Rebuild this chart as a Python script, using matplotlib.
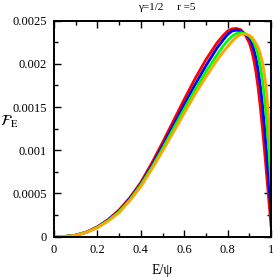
import matplotlib
matplotlib.use('Agg')
import matplotlib.pyplot as plt
from matplotlib.ticker import MultipleLocator, FormatStrFormatter

plt.rcParams['font.family'] = ['Liberation Serif', 'DejaVu Serif']
plt.rcParams['mathtext.fontset'] = 'stix'

title = 'γ=1/2     r =5'
x_label = 'E/ψ'
y_label = r'$\mathcal{F}_{\rm E}$'

e_over_psi = [0.0, 0.05, 0.1, 0.15, 0.2, 0.25, 0.3, 0.35, 0.4, 0.45, 0.5,
              0.55, 0.6, 0.65, 0.7, 0.75, 0.78, 0.8, 0.82, 0.84, 0.86, 0.88,
              0.9, 0.91, 0.92, 0.93, 0.94, 0.95, 0.96, 0.97, 0.98, 0.99, 1.0]

f_red = [0.0, 0.000003, 0.000018, 0.000055, 0.000115, 0.0002, 0.00031, 0.000455,
         0.00063, 0.00085, 0.00109, 0.00134, 0.00159, 0.00183, 0.00205, 0.00224,
         0.00233, 0.00238, 0.002405, 0.00241, 0.002395, 0.00234,
         0.00224, 0.00216, 0.00205, 0.00191, 0.00173, 0.00151, 0.00126, 0.00099,
         0.0007, 0.00041, 0.00012]
f_blue = [0.0, 0.000003, 0.000017, 0.000053, 0.000111, 0.000194, 0.0003, 0.00044,
          0.00061, 0.00082, 0.00105, 0.00129, 0.00153, 0.00176, 0.00198, 0.00218,
          0.00228, 0.00234, 0.00238, 0.00239, 0.00238, 0.002345,
          0.0023, 0.00224, 0.00217, 0.00207, 0.00193, 0.00175, 0.00153, 0.00126,
          0.00095, 0.00062, 0.00027]
f_green = [0.0, 0.000003, 0.000017, 0.000052, 0.000108, 0.000188, 0.00029, 0.00043,
           0.0006, 0.0008, 0.00102, 0.00125, 0.00148, 0.0017, 0.00191, 0.0021,
           0.00221, 0.00227, 0.00232, 0.00235, 0.00236, 0.00235,
           0.00232, 0.00229, 0.00225, 0.00219, 0.0021, 0.00198, 0.00182, 0.00161,
           0.00133, 0.00099, 0.0006]
f_orange = [0.0, 0.000003, 0.000016, 0.00005, 0.000105, 0.000182, 0.00028, 0.00042,
            0.00058, 0.00078, 0.00099, 0.00121, 0.00143, 0.00165, 0.00185, 0.00204,
            0.00214, 0.0022, 0.00226, 0.00231, 0.00234, 0.002345,
            0.00233, 0.00231, 0.00228, 0.00224, 0.00219, 0.00212, 0.00202, 0.00187,
            0.00165, 0.00133, 0.00088]

series = [(f_red, '#ff0000'), (f_blue, '#0000ff'),
          (f_green, '#00ff00'), (f_orange, '#ffa500')]

fig = plt.figure(figsize=(2.73, 2.77), dpi=100)
ax = fig.add_axes([0.198, 0.1455, 0.795, 0.78])

for values, color in series:
    ax.plot(e_over_psi, values, color=color, lw=2.0, solid_joinstyle='round')

ax.set_xlim(0, 1)
ax.set_ylim(0, 0.0025)
ax.xaxis.set_major_locator(MultipleLocator(0.2))
ax.xaxis.set_minor_locator(MultipleLocator(0.1))
ax.yaxis.set_major_locator(MultipleLocator(0.0005))
ax.yaxis.set_minor_locator(MultipleLocator(0.00025))
ax.xaxis.set_major_formatter(FormatStrFormatter('%g'))
ax.yaxis.set_major_formatter(FormatStrFormatter('%g'))
ax.tick_params(which='both', direction='in', top=True, right=True,
               width=1.0, labelsize=9)
ax.tick_params(which='major', length=5, pad=5)
ax.tick_params(which='minor', length=3)
for spine in ax.spines.values():
    spine.set_linewidth(1.4)

ax.set_xlabel(x_label, fontsize=10, labelpad=6)
ax.text(-0.207, 0.53, y_label, transform=ax.transAxes, fontsize=11,
        ha='center', va='center')
fig.text(167 / 273, 1 - 7 / 277, title, fontsize=8, ha='center', va='center')

fig.savefig('out.png', dpi=100)
